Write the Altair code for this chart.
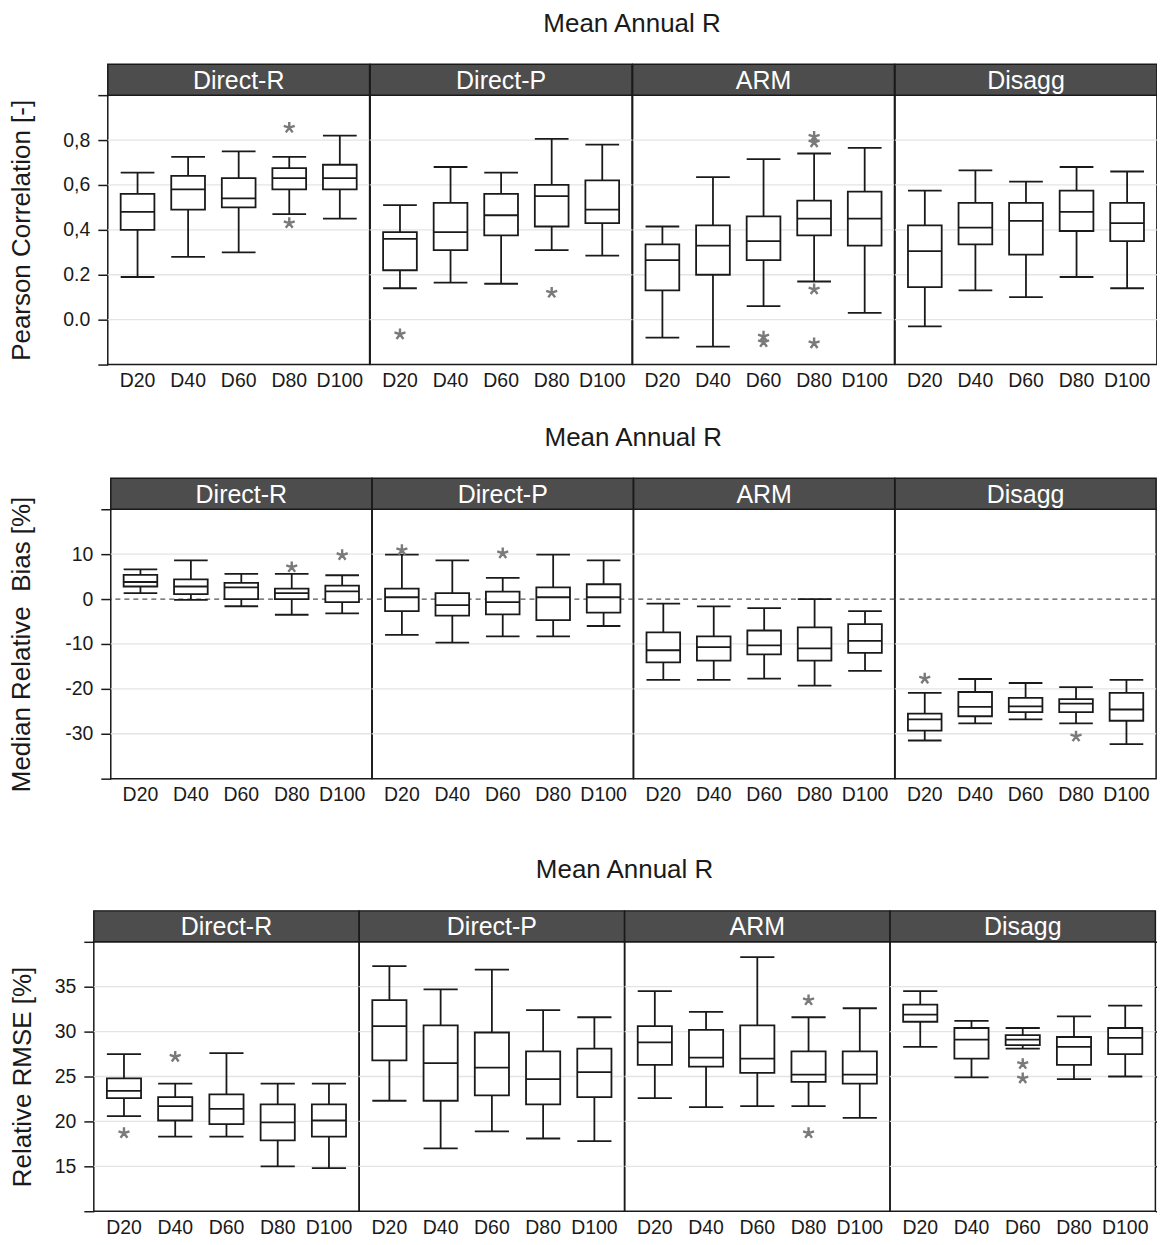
import altair as alt
import pandas as pd

FONT = "Liberation Sans"
INK = "#1a1a1a"
CATS = ["D20", "D40", "D60", "D80", "D100"]
METHODS = ["Direct-R", "Direct-P", "ARM", "Disagg"]
ROW_TITLE = "Mean Annual R"

# ---------------- Row 1: Pearson correlation ----------------
PC_LO = [0.19, 0.28, 0.30, 0.47, 0.45,
         0.14, 0.165, 0.16, 0.31, 0.285,
         -0.08, -0.12, 0.06, 0.17, 0.03,
         -0.03, 0.13, 0.10, 0.19, 0.14]
PC_Q1 = [0.40, 0.49, 0.50, 0.58, 0.58,
         0.22, 0.31, 0.375, 0.415, 0.43,
         0.13, 0.20, 0.265, 0.375, 0.33,
         0.145, 0.335, 0.29, 0.395, 0.35]
PC_MED = [0.48, 0.58, 0.54, 0.63, 0.63,
          0.36, 0.39, 0.465, 0.55, 0.49,
          0.265, 0.33, 0.35, 0.45, 0.45,
          0.305, 0.41, 0.44, 0.48, 0.43]
PC_Q3 = [0.56, 0.64, 0.63, 0.675, 0.69,
         0.39, 0.52, 0.56, 0.60, 0.62,
         0.335, 0.42, 0.46, 0.53, 0.57,
         0.42, 0.52, 0.52, 0.575, 0.52]
PC_HI = [0.655, 0.725, 0.75, 0.725, 0.82,
         0.51, 0.68, 0.655, 0.805, 0.78,
         0.415, 0.635, 0.715, 0.74, 0.765,
         0.575, 0.665, 0.615, 0.68, 0.66]
PC_OUT_M = ["Direct-R", "Direct-R", "Direct-P", "Direct-P",
            "ARM", "ARM", "ARM", "ARM", "ARM", "ARM"]
PC_OUT_C = ["D80", "D80", "D20", "D80", "D60", "D60", "D80", "D80", "D80", "D80"]
PC_OUT_V = [0.855, 0.43, -0.065, 0.12, -0.075, -0.10, 0.815, 0.79, 0.135, -0.105]
PC_TICKS = [-0.2, 0.0, 0.2, 0.4, 0.6, 0.8, 1.0]
PC_LABELS = ["", "0.0", "0.2", "0,4", "0,6", "0,8", ""]
PC_GRID = [0.0, 0.2, 0.4, 0.6, 0.8]

# ---------------- Row 2: Median relative bias ----------------
MB_LO = [1.3, -0.2, -1.6, -3.5, -3.2,
         -8.0, -9.7, -8.3, -8.3, -6.0,
         -18.0, -18.0, -17.7, -19.3, -16.0,
         -31.5, -27.7, -26.8, -27.7, -32.3]
MB_Q1 = [2.8, 1.1, 0.0, 0.0, -0.7,
         -2.7, -3.7, -3.4, -4.7, -3.0,
         -14.1, -13.7, -12.3, -13.7, -12.0,
         -29.3, -26.1, -25.2, -25.2, -27.1]
MB_MED = [3.8, 2.8, 2.6, 1.3, 1.7,
          0.4, -1.35, -0.7, 0.4, 0.4,
          -11.4, -10.7, -10.3, -11.0, -9.3,
          -26.8, -24.0, -23.9, -23.3, -24.6]
MB_Q3 = [5.4, 4.4, 3.6, 2.3, 3.0,
         2.3, 1.3, 1.65, 2.6, 3.3,
         -7.4, -8.3, -7.0, -6.3, -5.6,
         -25.5, -20.7, -22.0, -22.3, -20.9]
MB_HI = [6.6, 8.6, 5.6, 5.6, 5.3,
         9.9, 8.6, 4.7, 9.9, 8.6,
         -1.0, -1.65, -2.0, 0.0, -2.7,
         -20.9, -17.8, -18.7, -19.6, -18.0]
MB_OUT_M = ["Direct-R", "Direct-R", "Direct-P", "Direct-P", "Disagg", "Disagg"]
MB_OUT_C = ["D80", "D100", "D20", "D60", "D20", "D80"]
MB_OUT_V = [7.1, 9.8, 10.9, 10.2, -17.7, -30.6]
MB_TICKS = [-40, -30, -20, -10, 0, 10, 20]
MB_LABELS = ["", "-30", "-20", "-10", "0", "10", ""]
MB_GRID = [-30, -20, -10, 10]

# ---------------- Row 3: Relative RMSE ----------------
RM_LO = [20.6, 18.3, 18.3, 15.0, 14.8,
         22.3, 17.0, 18.9, 18.1, 17.8,
         22.6, 21.6, 21.7, 21.7, 20.4,
         28.3, 24.9, 28.1, 24.7, 25.0]
RM_Q1 = [22.6, 20.1, 19.7, 17.9, 18.3,
         26.8, 22.3, 22.9, 21.9, 22.7,
         26.3, 26.1, 25.4, 24.4, 24.2,
         31.1, 27.0, 28.5, 26.3, 27.5]
RM_MED = [23.4, 21.7, 21.4, 19.9, 20.1,
          30.6, 26.5, 26.0, 24.7, 25.5,
          28.8, 27.1, 27.0, 25.2, 25.2,
          31.9, 29.1, 29.1, 28.3, 29.3]
RM_Q3 = [24.8, 22.7, 23.0, 21.9, 21.9,
         33.5, 30.7, 29.9, 27.8, 28.1,
         30.6, 30.2, 30.7, 27.8, 27.8,
         33.0, 30.4, 29.6, 29.4, 30.4]
RM_HI = [27.5, 24.2, 27.6, 24.2, 24.2,
         37.3, 34.7, 36.9, 32.4, 31.6,
         34.5, 32.2, 38.3, 31.6, 32.6,
         34.5, 31.2, 30.4, 31.7, 32.9]
RM_OUT_M = ["Direct-R", "Direct-R", "ARM", "ARM", "Disagg", "Disagg"]
RM_OUT_C = ["D20", "D40", "D80", "D80", "D60", "D60"]
RM_OUT_V = [18.7, 27.2, 33.5, 18.7, 26.4, 24.8]
RM_TICKS = [10, 15, 20, 25, 30, 35, 40]
RM_LABELS = ["", "15", "20", "25", "30", "35", ""]
RM_GRID = [15, 20, 25, 30, 35]

# five-armed asterisk symbol
AST = "M0,0L0,-1M0,0L-0.95,-0.31M0,0L-0.59,0.81M0,0L0.59,0.81M0,0L0.95,-0.31"

P_IN, P_OUT = 0.333, 0.255
H = 270
HEAD = 31
TITLE_GAP = 40.5


def label_expr(ticks, labels):
    expr = "''"
    for t, l in zip(ticks, labels):
        expr = f"(abs(datum.value - ({t})) < 1e-6 ? '{l}' : {expr})"
    return expr


def panel(stats, outs, cfg, method, idx):
    W = cfg["w"]
    step = W / (5 - P_IN + 2 * P_OUT)
    bw = step * (1 - P_IN)
    df = stats[stats.method == method]
    od = outs[outs.method == method]

    xs = alt.Scale(domain=CATS, paddingInner=P_IN, paddingOuter=P_OUT)
    xenc = alt.X("cat:N", sort=CATS, scale=xs,
                 axis=alt.Axis(title=None, labelAngle=0, ticks=False, domain=False,
                               labelFontSize=19.5, labelPadding=7, labelColor=INK,
                               labelFont=FONT))
    ys = alt.Scale(domain=cfg["domain"], nice=False, zero=False)
    if idx == 0:
        yaxis = alt.Axis(orient="left", values=cfg["ticks"],
                         labelExpr=label_expr(cfg["ticks"], cfg["labels"]),
                         title=cfg["ytitle"], tickSize=10, tickColor=INK, tickWidth=1.5,
                         labelPadding=8, titlePadding=cfg["tp"], domain=False, grid=False,
                         labelFontSize=19.5, labelColor=INK, labelFont=FONT,
                         titleFontSize=26, titleFontWeight="normal", titleColor=INK,
                         titleFont=FONT)
    elif idx == 3 and cfg["right"]:
        yaxis = alt.Axis(orient="right", values=cfg["ticks"], labels=False, title=None,
                         tickSize=3, tickColor=INK, tickWidth=1.5, domain=False, grid=False)
    else:
        yaxis = None

    def Y(f):
        return alt.Y(f, scale=ys, axis=yaxis)

    layers = []
    layers.append(alt.Chart(pd.DataFrame({"v": cfg["grid"]})).mark_rule(
        color="#e4e4e4", strokeWidth=1.3).encode(y=Y("v:Q")))
    if cfg["zero"]:
        layers.append(alt.Chart(pd.DataFrame({"v": [0]})).mark_rule(
            color="#555555", strokeDash=[5, 4], strokeWidth=1.2).encode(y=Y("v:Q")))
    base = alt.Chart(df)
    lw = 1.8
    layers.append(base.mark_rule(color=INK, strokeWidth=lw).encode(
        x=xenc, y=Y("lo:Q"), y2="q1:Q"))
    layers.append(base.mark_rule(color=INK, strokeWidth=lw).encode(
        x=xenc, y=Y("q3:Q"), y2="hi:Q"))
    layers.append(base.mark_bar(fill="white", stroke=INK, strokeWidth=lw).encode(
        x=xenc, y=Y("q1:Q"), y2="q3:Q"))
    for f in ["med", "lo", "hi"]:
        layers.append(base.mark_tick(color=INK, thickness=lw, size=bw, opacity=1).encode(
            x=xenc, y=Y(f + ":Q")))
    layers.append(alt.Chart(od).mark_point(
        shape=AST, size=135, filled=False, stroke="#7a7a7a", strokeWidth=2.4,
        opacity=1).encode(x=xenc, y=Y("v:Q")))
    hd = pd.DataFrame({"name": [method]})
    layers.append(alt.Chart(hd).mark_rect(fill="#4d4d4d", stroke=INK, strokeWidth=1.5).encode(
        x=alt.value(0), x2=alt.value(W), y=alt.value(-HEAD), y2=alt.value(0)))
    layers.append(alt.Chart(hd).mark_text(color="white", fontSize=25, font=FONT,
                                          baseline="middle", align="center").encode(
        x=alt.value(W / 2), y=alt.value(-HEAD / 2 + 1), text="name:N"))
    if idx == 1:
        # row title, centred over the four panels (right edge of panel 2 = centre)
        layers.append(alt.Chart(pd.DataFrame({"t": [ROW_TITLE]})).mark_text(
            color=INK, fontSize=26, font=FONT, baseline="middle", align="center").encode(
            x=alt.value(W), y=alt.value(-HEAD - TITLE_GAP), text="t:N"))
    return alt.layer(*layers).properties(width=W, height=H)


def spacer(w):
    return alt.Chart(pd.DataFrame({"v": [0]})).mark_point(opacity=0).encode(
        x=alt.value(0), y=alt.value(0)).properties(
        width=w, height=H, view=alt.ViewBackground(stroke="transparent"))


def make_row(lo, q1, med, q3, hi, om, oc, ov, cfg):
    rows = []
    for i, m in enumerate(METHODS):
        for j, c in enumerate(CATS):
            k = i * 5 + j
            rows.append(dict(method=m, cat=c, lo=lo[k], q1=q1[k], med=med[k],
                             q3=q3[k], hi=hi[k]))
    stats = pd.DataFrame(rows)
    outs = pd.DataFrame({"method": om, "cat": oc, "v": ov})
    panels = [panel(stats, outs, cfg, m, i) for i, m in enumerate(METHODS)]
    if cfg["shift"] > 0:
        panels = [spacer(cfg["shift"])] + panels
    return alt.hconcat(*panels, spacing=0, bounds="flush")


row1 = make_row(PC_LO, PC_Q1, PC_MED, PC_Q3, PC_HI, PC_OUT_M, PC_OUT_C, PC_OUT_V,
                dict(w=262.375, domain=[-0.2, 1.0], ticks=PC_TICKS, labels=PC_LABELS,
                     grid=PC_GRID, ytitle="Pearson Correlation [-]", tp=28,
                     right=True, zero=False, shift=14))
row2 = make_row(MB_LO, MB_Q1, MB_MED, MB_Q3, MB_HI, MB_OUT_M, MB_OUT_C, MB_OUT_V,
                dict(w=261.625, domain=[-40, 20], ticks=MB_TICKS, labels=MB_LABELS,
                     grid=MB_GRID, ytitle="Median Relative\u00a0 Bias [%]", tp=30,
                     right=False, zero=True, shift=17))
row3 = make_row(RM_LO, RM_Q1, RM_MED, RM_Q3, RM_HI, RM_OUT_M, RM_OUT_C, RM_OUT_V,
                dict(w=265.875, domain=[10, 40], ticks=RM_TICKS, labels=RM_LABELS,
                     grid=RM_GRID, ytitle="Relative RMSE [%]", tp=19,
                     right=True, zero=False, shift=0))

top = alt.vconcat(row1, row2, spacing=32)
chart = alt.vconcat(top, row3, spacing=50.5).properties(
    padding={"top": 0, "bottom": 0, "left": 0, "right": -4.5}
).configure(font=FONT).configure_view(stroke=INK, strokeWidth=1.5)

chart.save("out.html", embed_options={"renderer": "svg", "actions": False})
